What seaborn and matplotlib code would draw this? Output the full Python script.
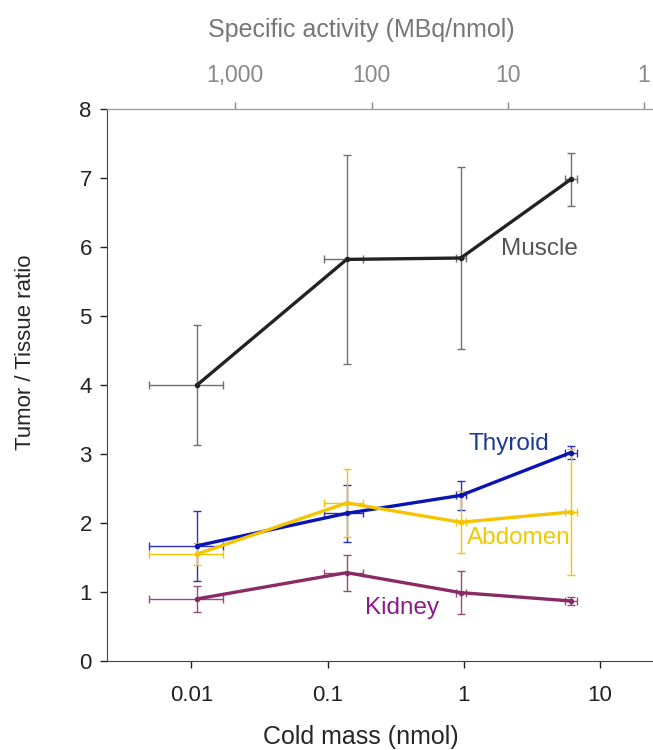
import numpy as np
import pandas as pd
import matplotlib
matplotlib.use("Agg")
import matplotlib.pyplot as plt
import seaborn as sns

# data
mass = [0.011, 0.138, 0.95, 6.1]
mass_lo = [0.0049, 0.094, 0.88, 5.5]
mass_hi = [0.017, 0.182, 1.03, 6.75]

muscle = [4.0, 5.82, 5.84, 6.98]
muscle_err = [0.87, 1.51, 1.32, 0.38]
thyroid = [1.67, 2.14, 2.40, 3.02]
thyroid_err = [0.51, 0.41, 0.21, 0.09]
abdomen = [1.55, 2.29, 2.01, 2.16]
abdomen_err = [0.16, 0.49, 0.45, 0.91]
kidney = [0.90, 1.28, 0.99, 0.87]
kidney_err = [0.19, 0.26, 0.31, 0.06]

series = ["Muscle", "Thyroid", "Abdomen", "Kidney"]
line_colors = {"Muscle": "#222222", "Thyroid": "#0a14b4", "Abdomen": "#f5c400", "Kidney": "#8a2a66"}
err_colors = {"Muscle": "#707070", "Thyroid": "#2a30c0", "Abdomen": "#f5c400", "Kidney": "#9a4a7a"}
label_colors = {"Muscle": "#555555", "Thyroid": "#1a3a9a", "Abdomen": "#f2c800", "Kidney": "#8b1a8b"}

SA_CONST = 21.0  # specific activity * cold mass

df = pd.DataFrame({
    "mass": mass * 4,
    "ratio": muscle + thyroid + abdomen + kidney,
    "err": muscle_err + thyroid_err + abdomen_err + kidney_err,
    "tissue": sum([[s] * 4 for s in series], []),
})

sns.set_style("ticks")
plt.rcParams["font.family"] = ["Liberation Sans", "DejaVu Sans"]

fig = plt.figure(figsize=(6.53, 7.5), dpi=100)
ax = fig.add_axes([0.164, 0.1187, 0.836, 0.736])

xerr = [np.array(mass) - np.array(mass_lo), np.array(mass_hi) - np.array(mass)]
for s in series:
    sub = df[df.tissue == s]
    ax.errorbar(sub["mass"], sub["ratio"], yerr=sub["err"], xerr=xerr,
                fmt="none", ecolor=err_colors[s], elinewidth=1.0,
                capsize=3, capthick=1.0, zorder=2)

sns.lineplot(data=df, x="mass", y="ratio", hue="tissue", palette=line_colors,
             linewidth=2.4, marker="o", markersize=4, markeredgewidth=0,
             legend=False, ax=ax, zorder=3)

ax.set_xscale("log")
ax.set_xlim(0.0024, 24.5)
ax.set_ylim(0, 8)
ax.set_xticks([0.01, 0.1, 1, 10])
ax.set_xticklabels(["0.01", "0.1", "1", "10"])
ax.xaxis.set_minor_locator(matplotlib.ticker.NullLocator())
ax.set_yticks(range(0, 9))
ax.tick_params(axis="both", labelsize=16, colors="#222222", length=5, width=1.0, pad=12)
ax.tick_params(axis="y", pad=6)
ax.set_xlabel("Cold mass (nmol)", fontsize=18, va="center")
ax.xaxis.set_label_coords(0.465, -0.1377)
ax.set_ylabel("Tumor / Tissue ratio", fontsize=16, va="center")
ax.yaxis.set_label_coords(-0.150, 0.56)

for sp in ["left", "bottom"]:
    ax.spines[sp].set_color("#444444")
ax.spines["right"].set_visible(False)
ax.spines["top"].set_color("#999999")

sec = ax.secondary_xaxis("top", functions=(lambda m: SA_CONST / m, lambda s: SA_CONST / s))
sec.set_xticks([1000, 100, 10, 1])
sec.set_xticklabels(["1,000", "100", "10", "1"])
sec.xaxis.set_minor_locator(matplotlib.ticker.NullLocator())
sec.tick_params(axis="x", labelsize=16.5, colors="#888888", length=5, width=1.0, pad=11)
sec.spines["top"].set_color("#999999")
fig.text(0.553, 0.96, "Specific activity (MBq/nmol)", fontsize=18, color="#777777",
         ha="center", va="center")

ax.text(1.87, 5.97, "Muscle", color=label_colors["Muscle"], fontsize=17.5, va="center")
ax.text(1.09, 3.14, "Thyroid", color=label_colors["Thyroid"], fontsize=17.5, va="center")
ax.text(1.05, 1.78, "Abdomen", color=label_colors["Abdomen"], fontsize=17.5, va="center")
ax.text(0.188, 0.77, "Kidney", color=label_colors["Kidney"], fontsize=17.5, va="center")

fig.savefig("out.png", dpi=100)
